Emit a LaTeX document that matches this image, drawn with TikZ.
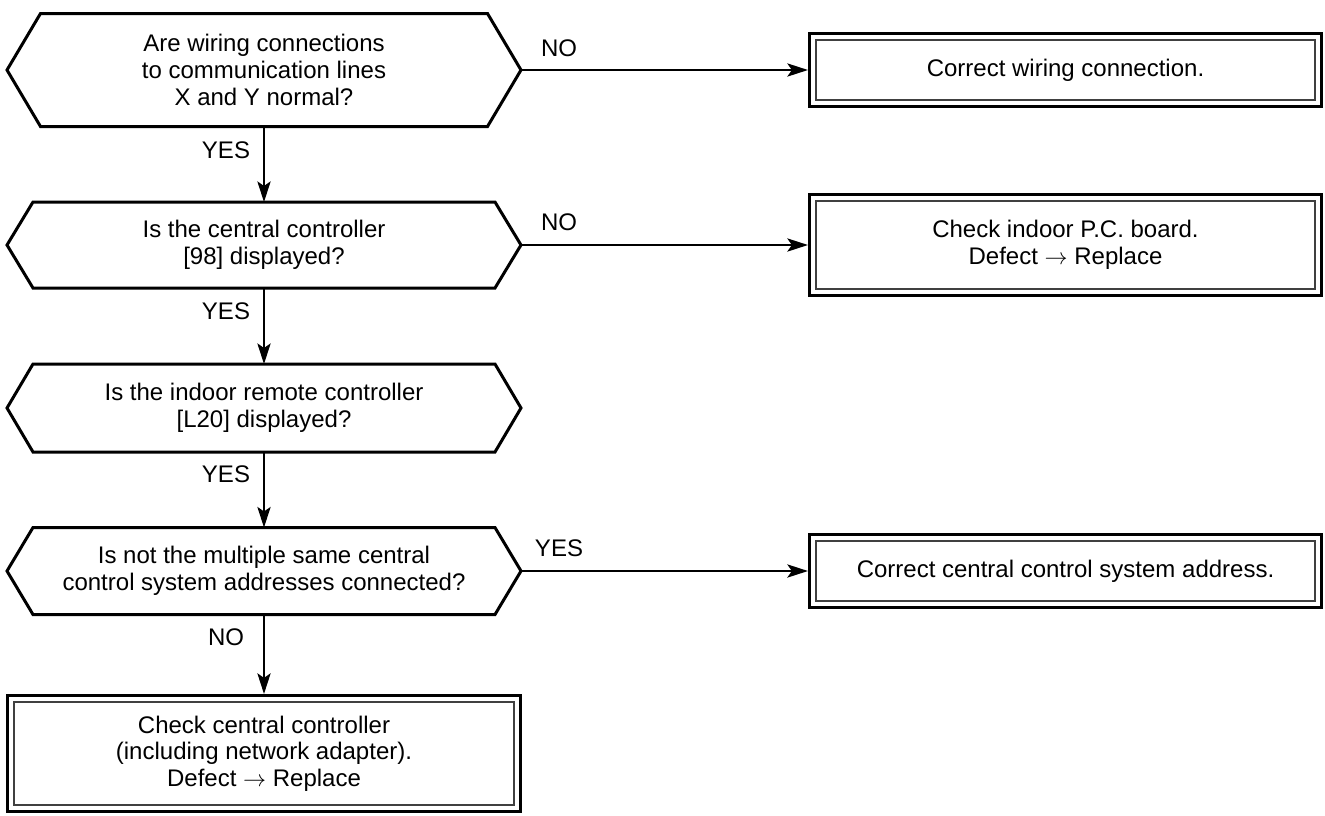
\documentclass[tikz,border=0pt]{standalone}
\usepackage{fontspec}
\setmainfont{Liberation Sans}
\usetikzlibrary{arrows.meta}

\tikzset{every picture/.style={line width=0.75pt}}
\tikzset{
	decision/.style={outer sep=0pt, inner sep=0pt, align=center, font=\fontsize{18}{20}\selectfont},
	hexline/.style={line width=2.25pt, line join=miter},
	action/.style={draw, line width=2.4pt, inner sep=0pt, align=center, font=\fontsize{18}{20}\selectfont},
	framein/.style={draw=black!75, line width=1.2pt},
	conn/.style={line width=1pt, -{Stealth[length=15.5pt,width=10pt,inset=3.5pt]}},
	lbl/.style={inner sep=0pt, font=\fontsize{18}{20}\selectfont},
}

\begin{document}
\begin{tikzpicture}[x=0.75pt,y=0.75pt,yscale=-1,xscale=1]
	\useasboundingbox (0,0) rectangle (1325,815);

	% Decisions
	\node[decision, minimum width=335.25pt, minimum height=84.75pt] (q1) at (264,70) {Are wiring connections\\to communication lines\\X and Y normal?};
	\coordinate (q1-l) at (7,70);
	\coordinate (q1-r) at (521,70);
	\node[decision, minimum width=346.5pt, minimum height=64.5pt] (q2) at (264,245) {Is the central controller\\{[98]} displayed?};
	\coordinate (q2-l) at (7,245);
	\coordinate (q2-r) at (521,245);
	\node[decision, minimum width=346.5pt, minimum height=66pt] (q3) at (264,408) {Is the indoor remote controller\\{[L20]} displayed?};
	\coordinate (q3-l) at (7,408);
	\coordinate (q3-r) at (521,408);
	\node[decision, minimum width=346.5pt, minimum height=65.25pt] (q4) at (264,571) {Is not the multiple same central\\control system addresses connected?};
	\coordinate (q4-l) at (7,571);
	\coordinate (q4-r) at (521,571);

	\foreach \q in {q1,q2,q3,q4}
		\draw[hexline] (\q-l) -- (\q.north west) -- (\q.north east) -- (\q-r) -- (\q.south east) -- (\q.south west) -- cycle;

	% Actions
	\node[action, minimum width=384pt, minimum height=54.75pt] (b1) at (1065.5,70) {Correct wiring connection.};
	\node[action, minimum width=384pt, minimum height=75.75pt] (b2) at (1065.5,245) {Check indoor P.C. board.\\Defect $\rightarrow$ Replace};
	\node[action, minimum width=384pt, minimum height=54.75pt] (b3) at (1065.5,571) {Correct central control system address.};
	\node[action, minimum width=384.75pt, minimum height=87pt] (b4) at (264,753.5) {Check central controller\\(including network adapter).\\Defect $\rightarrow$ Replace};

	\foreach \b in {b1,b2,b3,b4}
		\draw[framein] ([shift={(8,8)}]\b.north west) rectangle ([shift={(-8,-8)}]\b.south east);

	% Connections
	\draw[conn] (q1.south) -- (q2.north);
	\draw[conn] (q2.south) -- (q3.north);
	\draw[conn] (q3.south) -- (q4.north);
	\draw[conn] (q4.south) -- (b4.north);
	\draw[conn] (q1-r) -- (b1);
	\draw[conn] (q2-r) -- (b2);
	\draw[conn] (q4-r) -- (b3);

	% Text Node
	\node[lbl] (y1) at (226,150) {YES};
	\node[lbl] (y2) at (226,311) {YES};
	\node[lbl] (y3) at (226,474) {YES};
	\node[lbl] (n4) at (226,637) {NO};
	\node[lbl] (n1) at (559,48) {NO};
	\node[lbl] (n2) at (559,222) {NO};
	\node[lbl] (y4) at (559,548) {YES};

\end{tikzpicture}
\end{document}
